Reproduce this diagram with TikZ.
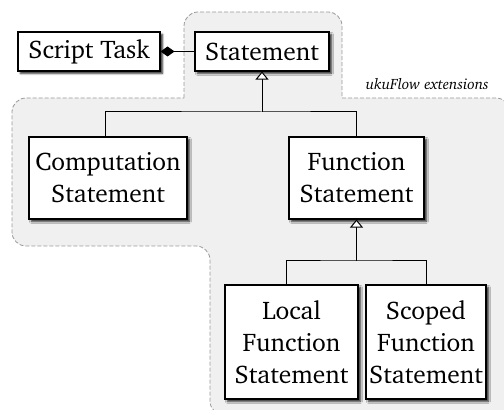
\documentclass[tikz,border=0pt]{standalone}
\usepackage[T1]{fontenc}
\usepackage{charter}
\usetikzlibrary{arrows.meta,shadows.blur}

\definecolor{regionfill}{HTML}{F0F0F0}
\definecolor{regionline}{HTML}{999999}

\tikzset{
  umlclass/.style={draw=black, line width=1.1pt, fill=white, inner sep=0pt,
    align=center, font=\fontsize{25.5}{32}\selectfont,
    blur shadow={shadow xshift=2.4pt, shadow yshift=-2.4pt,
      shadow blur radius=2pt, shadow opacity=85}},
  conn/.style={draw=black, line width=1pt},
  inherit/.style={conn, -{Triangle[open, length=8pt, width=13pt, fill=white, line width=1pt]}},
  compose/.style={conn, -{Diamond[length=14pt, width=10pt]}},
  region/.style={draw=regionline, fill=regionfill, line width=0.8pt,
    dash pattern=on 4pt off 2pt},
}

\begin{document}
\begin{tikzpicture}[x=1pt, y=1pt]
  \useasboundingbox (0,0) rectangle (504,410);

  % extension area behind the statement classes
  \begin{scope}
    \clip (0,0) rectangle (504,410);
    \draw[region] (184,312) -- (184,384)
      arc[start angle=180, end angle=90, radius=14] -- (328,398)
      arc[start angle=90, end angle=0, radius=14] -- (342,312)
      -- (496,312) arc[start angle=90, end angle=0, radius=14]
      -- (510,9) arc[start angle=0, end angle=-90, radius=14]
      -- (224,-5) arc[start angle=-90, end angle=-180, radius=14]
      -- (210,150) arc[start angle=0, end angle=90, radius=14]
      -- (26,164) arc[start angle=-90, end angle=-180, radius=14]
      -- (12,298) arc[start angle=180, end angle=90, radius=14]
      -- cycle;
  \end{scope}
  \node[anchor=base east, font=\fontsize{15}{17}\selectfont\itshape, inner sep=0pt]
    (extlabel) at (489,320) {ukuFlow extensions};

  % classes
  \node[umlclass, minimum width=142pt, minimum height=39pt] (task) at (89,358.5) {Script Task};
  \node[umlclass, minimum width=134pt, minimum height=39pt] (stmt) at (262,358.5) {Statement};
  \node[umlclass, minimum width=158pt, minimum height=82pt] (comp) at (108,232) {Computation\\Statement};
  \node[umlclass, minimum width=135pt, minimum height=82pt] (func) at (356.5,232) {Function\\Statement};
  \node[umlclass, minimum width=133pt, minimum height=114pt] (local) at (291.5,68) {Local\\Function\\Statement};
  \node[umlclass, minimum width=120pt, minimum height=114pt] (scoped) at (426,68) {Scoped\\Function\\Statement};

  % composition
  \draw[compose] (stmt.west) -- (task.east);

  % generalisations
  \coordinate (j1) at (stmt.south |- 0,298);
  \draw[conn] ([xshift=-3pt]comp.north) |- (j1) -| (func.north);
  \draw[inherit] (j1) -- (stmt.south);

  \coordinate (j2) at (func.south |- 0,149);
  \draw[conn] ([xshift=-5pt]local.north) |- (j2) -| (scoped.north);
  \draw[inherit] (j2) -- (func.south);
\end{tikzpicture}
\end{document}
